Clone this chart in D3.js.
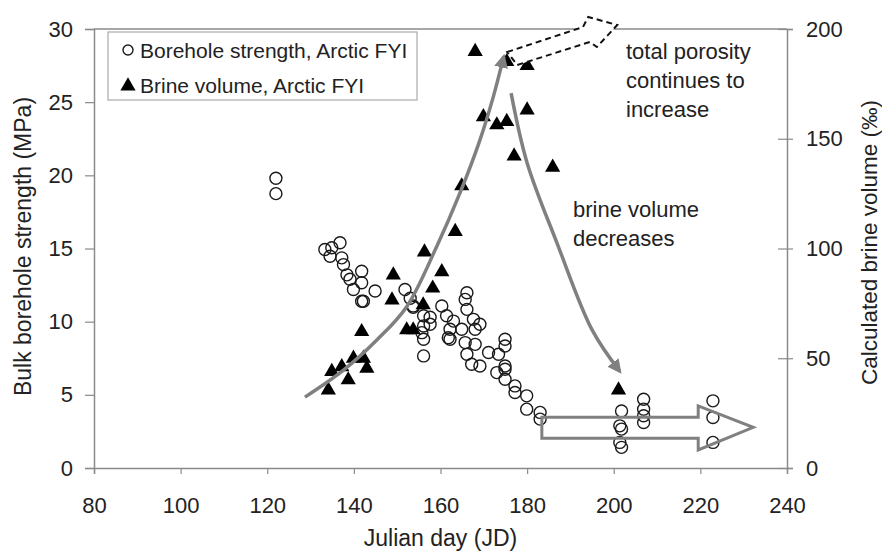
<!DOCTYPE html>
<html>
<head>
<meta charset="utf-8">
<script src="https://cdn.jsdelivr.net/npm/d3@7"></script>
<style>
  html, body { margin: 0; padding: 0; background: #fff; }
  svg { display: block; font-family: "Liberation Sans", Arial, sans-serif; }
</style>
</head>
<body>
<svg id="chart" width="882" height="551"></svg>
<script>
// Borehole strength (MPa) vs Julian day, Arctic first-year ice
const strengthDays = [
  122, 122, 133.3, 134.9, 136.8, 134.5, 137.2, 137.6, 138.4, 139.1, 141.8, 141.8,
  139.9, 144.9, 141.8, 151.8, 153, 153.7, 156.1, 157.6, 157.6, 160.3, 161.4, 156.1,
  155.7, 156.1, 156.1, 162.2, 162.2, 166.1, 165.7, 166.1, 163, 164.9, 161.8, 167.6,
  169.1, 168, 165.7, 168, 166.1, 167.2, 169.1, 171.1, 173.4, 174.9, 174.9, 173,
  174.9, 174.9, 174.9, 177.2, 177.2, 179.9, 179.9, 183, 183, 201.8, 201.4, 201.8,
  201.4, 201.8, 206.9, 206.9, 206.9, 206.9, 222.9, 222.9, 222.9, 153.7, 142.2
];
const strengthMPa = [
  19.8, 18.75, 14.93, 15.05, 15.39, 14.47, 14.36, 13.9, 13.2, 12.9, 13.45, 12.66,
  12.2, 12.1, 11.4, 12.2, 11.6, 11.07, 10.4, 10.3, 9.82, 11.07, 10.4, 9.7,
  9.25, 8.8, 7.66, 9.48, 8.8, 11.98, 11.52, 10.84, 10.04, 9.48, 8.9, 10.16,
  9.82, 9.48, 8.57, 8.45, 7.77, 7.09, 6.97, 7.89, 7.77, 8.8, 8.34, 6.52,
  6.97, 6.07, 6.75, 5.61, 5.16, 4.93, 4.02, 3.8, 3.34, 3.9, 2.88, 2.66,
  1.75, 1.41, 4.7, 4.02, 3.57, 3.11, 4.59, 3.45, 1.75, 10.98, 11.4
];

// Calculated brine volume (per mille) vs Julian day
const brineDays = [
  134.1, 134.9, 137.2, 138.7, 139.9, 142.2, 143, 141.8, 148.8, 149.1, 152.2, 153.7,
  156.3, 156, 158.2, 160.3, 163.4, 164.9, 168, 169.9, 173, 175.3, 175.3, 180,
  177, 180, 185.9, 201.1
];
const brineVolume = [
  35.5, 43.9, 46.1, 40.1, 50, 50, 45.4, 62.1, 76.5, 87.9, 62.9, 62.9,
  98.4, 74.3, 81.9, 89.4, 107.7, 128.5, 189.7, 160, 156.3, 157.8, 185.1, 183.3,
  142.1, 163.1, 137, 35.5
];

// Axis ticks
const dayTicks = [80, 100, 120, 140, 160, 180, 200, 220, 240];
const strengthTicks = [0, 5, 10, 15, 20, 25, 30];
const brineTicks = [0, 50, 100, 150, 200];

// Annotation paths, in data units: [day, brine volume]
const risingArrow = [[128.7, 32.3], [137.6, 44.6], [145.3, 58.3], [152.2, 73.5],
  [159.1, 100.8], [164.5, 125.3], [169.1, 149.4], [172.2, 169.2], [174.6, 187.5]];
const fallingArrow = [[176.3, 170.8], [180, 139], [186.9, 102.5], [195, 62.9], [201.4, 44]];
const porosityArrow = [[175.4, 189.5], [192.9, 200.9], [194.1, 205.5], [200.8, 201.8],
  [196.1, 191.8], [194.5, 194.1], [177.7, 183.6]];
// Block arrow in [day, MPa]
const flatArrow = [[183.4, 3.47], [219.5, 3.47], [219.5, 4.24], [232.2, 2.78],
  [219.5, 1.23], [219.5, 2.03], [183.4, 2.03]];

const svg = d3.select("#chart");
const plotLeft = 94, plotRight = 787, plotTop = 29, plotBottom = 468;

const x = d3.scaleLinear().domain([80, 240]).range([plotLeft, plotRight]);
const yL = d3.scaleLinear().domain([0, 30]).range([plotBottom, plotTop]);
const yR = d3.scaleLinear().domain([0, 200]).range([plotBottom, plotTop]);

const axisColor = "#8a8a8a";
const textColor = "#222";

// Frame top edge
svg.append("line").attr("x1", plotLeft).attr("x2", plotRight)
  .attr("y1", plotTop).attr("y2", plotTop)
  .attr("stroke", axisColor).attr("stroke-width", 1.5);

function styleAxis(g) {
  g.select(".domain").attr("stroke", axisColor).attr("stroke-width", 1.5);
  g.selectAll(".tick line").attr("stroke", axisColor).attr("stroke-width", 1.2);
  g.selectAll(".tick text").attr("fill", textColor).attr("font-size", 22)
    .attr("font-family", "'Liberation Sans', Arial, sans-serif");
}

svg.append("g").attr("transform", `translate(0,${plotBottom})`)
  .call(d3.axisBottom(x).tickValues(dayTicks).tickSizeOuter(0).tickSize(6).tickPadding(23))
  .call(styleAxis);

svg.append("g").attr("transform", `translate(${plotLeft},0)`)
  .call(d3.axisLeft(yL).tickValues(strengthTicks).tickSizeOuter(0).tickSize(9).tickPadding(12))
  .call(styleAxis);

const rightAxis = svg.append("g").attr("transform", `translate(${plotRight},0)`)
  .call(d3.axisRight(yR).tickValues(brineTicks).tickSizeOuter(0).tickSize(6).tickPadding(13))
  .call(styleAxis);
rightAxis.selectAll(".tick line").attr("x1", -9);

// Axis titles
const midY = (plotTop + plotBottom) / 2;
svg.append("text").attr("x", x(160)).attr("y", 546).attr("text-anchor", "middle")
  .attr("font-size", 23).attr("fill", textColor).text("Julian day (JD)");
svg.append("text").attr("transform", `translate(31,${midY - 2}) rotate(-90)`)
  .attr("text-anchor", "middle").attr("font-size", 23).attr("fill", textColor)
  .text("Bulk borehole strength (MPa)");
svg.append("text").attr("transform", `translate(877,${midY - 6}) rotate(-90)`)
  .attr("text-anchor", "middle").attr("font-size", 22.5).attr("fill", textColor)
  .text("Calculated brine volume (‰)");

// Borehole strength: open circles
svg.append("g").selectAll("circle")
  .data(d3.zip(strengthDays, strengthMPa))
  .join("circle")
  .attr("cx", d => x(d[0])).attr("cy", d => yL(d[1])).attr("r", 6)
  .attr("fill", "none").attr("stroke", "#1a1a1a").attr("stroke-width", 1.4);

// Brine volume: filled triangles
const tri = d3.symbol().type(d3.symbolTriangle).size(100);
svg.append("g").selectAll("path")
  .data(d3.zip(brineDays, brineVolume))
  .join("path")
  .attr("d", tri)
  .attr("transform", d => `translate(${x(d[0])},${yR(d[1])})`)
  .attr("fill", "#000");

// Grey trend arrows
const defs = svg.append("defs");
defs.append("marker").attr("id", "head").attr("viewBox", "0 0 10 10")
  .attr("refX", 8).attr("refY", 5).attr("markerWidth", 4).attr("markerHeight", 4)
  .attr("markerUnits", "strokeWidth").attr("orient", "auto")
  .append("path").attr("d", "M0,0 L10,5 L0,10 Z").attr("fill", "#808080");

const trend = d3.line().x(d => x(d[0])).y(d => yR(d[1])).curve(d3.curveCatmullRom);
[risingArrow, fallingArrow].forEach(pts => {
  svg.append("path").attr("d", trend(pts)).attr("fill", "none")
    .attr("stroke", "#808080").attr("stroke-width", 3.5)
    .attr("marker-end", "url(#head)");
});

// Outlined block arrow along the low-strength plateau
const shape = d3.line().x(d => x(d[0])).y(d => yL(d[1]));
svg.append("path").attr("d", shape(flatArrow) + "Z").attr("fill", "none")
  .attr("stroke", "#808080").attr("stroke-width", 3).attr("stroke-linejoin", "miter");

// Dashed arrow: porosity keeps rising
const shapeR = d3.line().x(d => x(d[0])).y(d => yR(d[1]));
svg.append("path").attr("d", shapeR(porosityArrow) + "Z").attr("fill", "#fff")
  .attr("stroke", "#111").attr("stroke-width", 2).attr("stroke-dasharray", "6,4");

// Legend
const legend = svg.append("g");
legend.append("rect").attr("x", 108).attr("y", 32).attr("width", 309).attr("height", 68)
  .attr("fill", "#fff").attr("stroke", "#aaa").attr("stroke-width", 1.2);
legend.append("circle").attr("cx", 128).attr("cy", 50).attr("r", 5)
  .attr("fill", "none").attr("stroke", "#1a1a1a").attr("stroke-width", 1.4);
legend.append("path").attr("d", tri).attr("transform", "translate(128,86)").attr("fill", "#000");
legend.append("text").attr("x", 140).attr("y", 57.5).attr("font-size", 21).attr("fill", textColor)
  .text("Borehole strength, Arctic FYI");
legend.append("text").attr("x", 140).attr("y", 93).attr("font-size", 21).attr("fill", textColor)
  .text("Brine volume, Arctic FYI");

// Annotations
const note1 = ["total porosity", "continues to", "increase"];
svg.append("g").selectAll("text").data(note1).join("text")
  .attr("x", 626).attr("y", (d, i) => 59 + i * 29)
  .attr("font-size", 22).attr("fill", textColor).text(d => d);
const note2 = ["brine volume", "decreases"];
svg.append("g").selectAll("text").data(note2).join("text")
  .attr("x", 573).attr("y", (d, i) => 217 + i * 29)
  .attr("font-size", 22).attr("fill", textColor).text(d => d);
</script>
</body>
</html>
